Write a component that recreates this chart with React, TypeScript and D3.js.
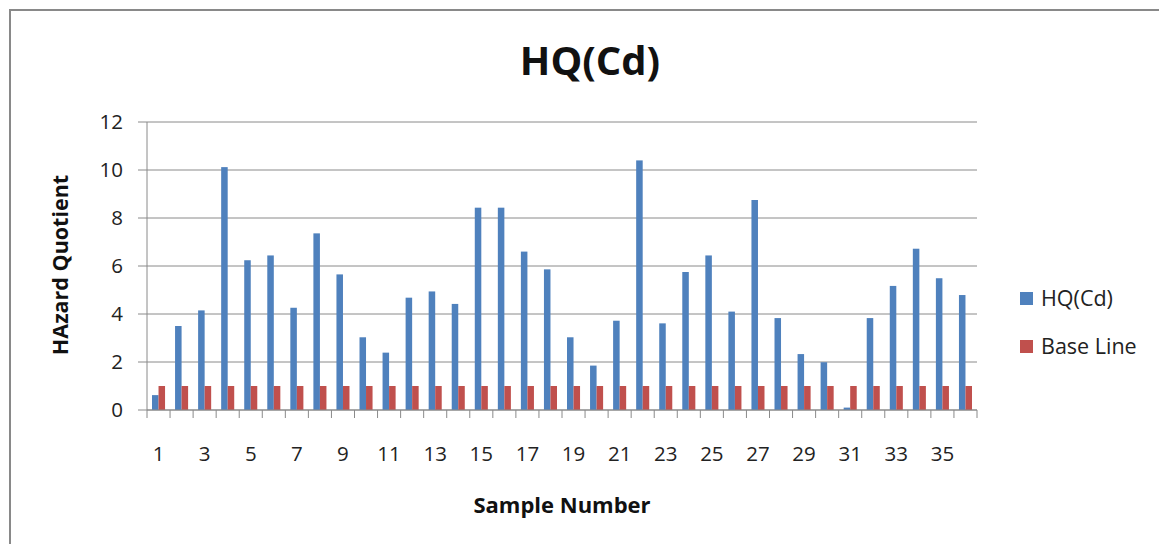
import React, { useRef, useEffect } from "react";
import * as d3 from "d3";

const samples = d3.range(1, 37).map(String);
const hqCd = [
  0.62, 3.5, 4.15, 10.12, 6.24, 6.44, 4.26, 7.36, 5.65, 3.03, 2.39, 4.68,
  4.94, 4.42, 8.43, 8.43, 6.6, 5.86, 3.03, 1.85, 3.72, 10.4, 3.61, 5.75,
  6.44, 4.1, 8.75, 3.83, 2.33, 1.99, 0.1, 3.83, 5.17, 6.72, 5.49, 4.79,
];
const baseLine = samples.map(() => 1);
const seriesNames = ["HQ(Cd)", "Base Line"];
const colors = ["#4F81BD", "#C0504D"];
const yTicks = [0, 2, 4, 6, 8, 10, 12];

const W = 1159;
const H = 544;
const FONT = "'Open Sans', 'Noto Sans', sans-serif";

const App = () => {
  const ref = useRef<SVGSVGElement>(null);

  useEffect(() => {
    const svg = d3.select(ref.current);
    svg.selectAll("*").remove();

    const left = 147, right = 977, top = 122, bottom = 410;

    // chart frame
    svg.append("rect")
      .attr("x", 10).attr("y", 10)
      .attr("width", W + 20).attr("height", H + 20)
      .attr("fill", "#fff").attr("stroke", "#898989").attr("stroke-width", 2);

    const x = d3.scaleBand().domain(samples).range([left, right])
      .paddingInner(0.434).paddingOuter(0.217);
    const xs = d3.scaleBand().domain(seriesNames).range([0, x.bandwidth()]);
    const y = d3.scaleLinear().domain([0, 12]).range([bottom, top]);

    // gridlines
    svg.append("g").selectAll("line").data(yTicks).join("line")
      .attr("x1", left - 9).attr("x2", right)
      .attr("y1", d => y(d)).attr("y2", d => y(d))
      .attr("stroke", "#8a8a8a").attr("stroke-width", 1);

    // y labels
    svg.append("g").selectAll("text").data(yTicks).join("text")
      .attr("x", 123).attr("y", d => y(d) + 7)
      .attr("text-anchor", "end")
      .attr("font-family", FONT).attr("font-size", 20.5).attr("fill", "#222")
      .text(d => d);

    // bars
    const data = [hqCd, baseLine];
    data.forEach((vals, si) => {
      svg.append("g").selectAll("rect").data(vals).join("rect")
        .attr("x", (d, i) => (x(samples[i]) as number) + (xs(seriesNames[si]) as number))
        .attr("width", xs.bandwidth())
        .attr("y", d => y(d))
        .attr("height", d => y(0) - y(d))
        .attr("fill", colors[si]);
    });

    // axes lines
    svg.append("line").attr("x1", left).attr("x2", left).attr("y1", top).attr("y2", bottom)
      .attr("stroke", "#8a8a8a");
    svg.append("line").attr("x1", left).attr("x2", right).attr("y1", bottom).attr("y2", bottom)
      .attr("stroke", "#8a8a8a");
    const step = x.step();
    svg.append("g").selectAll("line").data(d3.range(0, samples.length + 1)).join("line")
      .attr("x1", i => left + i * step).attr("x2", i => left + i * step)
      .attr("y1", bottom).attr("y2", bottom + 8)
      .attr("stroke", "#8a8a8a");

    // x labels (odd only)
    svg.append("g").selectAll("text")
      .data(samples.filter((s, i) => i % 2 === 0)).join("text")
      .attr("x", d => (x(d) as number) + x.bandwidth() / 2)
      .attr("y", 461)
      .attr("text-anchor", "middle")
      .attr("font-family", FONT).attr("font-size", 20.5).attr("fill", "#222")
      .text(d => d);

    // title
    svg.append("text").attr("x", 590).attr("y", 75)
      .attr("text-anchor", "middle")
      .attr("font-family", FONT).attr("font-size", 40).attr("font-weight", "bold")
      .attr("fill", "#111").text("HQ(Cd)");

    svg.append("text").attr("x", 562).attr("y", 513)
      .attr("text-anchor", "middle")
      .attr("font-family", FONT).attr("font-size", 22).attr("font-weight", "bold")
      .attr("fill", "#111").text("Sample Number");

    svg.append("text")
      .attr("transform", "translate(68,265) rotate(-90)")
      .attr("text-anchor", "middle")
      .attr("font-family", FONT).attr("font-size", 21.5).attr("font-weight", "bold")
      .attr("fill", "#111").text("HAzard Quotient");

    // legend
    const lg = svg.append("g").selectAll("g").data(seriesNames).join("g")
      .attr("transform", (d, i) => `translate(1020,${292 + i * 48})`);
    lg.append("rect").attr("width", 13).attr("height", 13)
      .attr("fill", (d, i) => colors[i]);
    lg.append("text").attr("x", 21).attr("y", 14)
      .attr("font-family", FONT).attr("font-size", 21.5).attr("fill", "#222")
      .text(d => d);
  }, []);

  return (
    <svg ref={ref} width={W} height={H}
      style={{ position: "absolute", left: 0, top: 0, background: "#fff" }} />
  );
};

export default App;
